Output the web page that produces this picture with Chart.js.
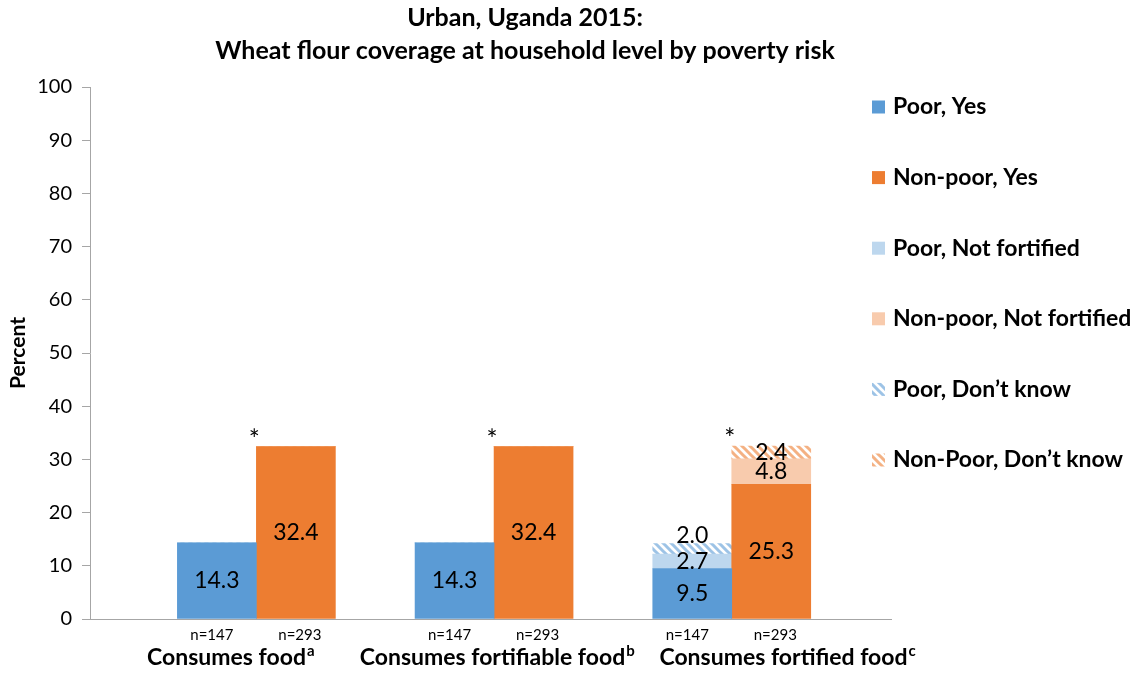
<!DOCTYPE html>
<html><head><meta charset="utf-8">
<script src="https://cdn.jsdelivr.net/npm/chart.js@4.4.0/dist/chart.umd.min.js"></script>
<style>html,body{margin:0;padding:0;background:#fff;}#wrap{width:1139px;height:674px;position:relative;}</style>
</head><body><div id="wrap"><canvas id="c" width="1139" height="674"></canvas></div>
<script>
// ---- data ----
const titleLines = ['Urban, Uganda 2015:', 'Wheat flour coverage at household level by poverty risk'];
const categories = ['Consumes food', 'Consumes fortifiable food', 'Consumes fortified food'];
const footnotes = ['a', 'b', 'c'];
const groupPositions = [1, 2, 3];
const poorYes = [14.3, 14.3, 9.5];
const nonPoorYes = [32.4, 32.4, 25.3];
const poorNotFortified = [0, 0, 2.7];
const nonPoorNotFortified = [0, 0, 4.8];
const poorDontKnow = [0, 0, 2.0];
const nonPoorDontKnow = [0, 0, 2.4];
const poorN = ['n=147', 'n=147', 'n=147'];
const nonPoorN = ['n=293', 'n=293', 'n=293'];
const significance = ['*', '*', '*'];
const seriesLabels = ['Poor, Yes', 'Non-poor, Yes', 'Poor, Not fortified', 'Non-poor, Not fortified', 'Poor, Don\u2019t know', 'Non-Poor, Don\u2019t know'];

const FONT = 'Lato';

function hatch(color) {
  const c = document.createElement('canvas'); c.width = 8; c.height = 8;
  const g = c.getContext('2d');
  g.fillStyle = '#ffffff'; g.fillRect(0, 0, 8, 8);
  g.strokeStyle = color; g.lineWidth = 3; g.lineCap = 'square';
  g.beginPath();
  g.moveTo(-2, -2); g.lineTo(10, 10);
  g.moveTo(-6, 2); g.lineTo(2, 10);
  g.moveTo(6, -2); g.lineTo(10, 2);
  g.stroke();
  return g.createPattern(c, 'repeat');
}

const pts = arr => groupPositions.map((x, i) => ({x: x, y: arr[i]}));

const datasets = [
  {label: seriesLabels[0], data: pts(poorYes), stack: 'poor', backgroundColor: '#5b9bd5'},
  {label: seriesLabels[1], data: pts(nonPoorYes), stack: 'nonpoor', backgroundColor: '#ed7d31'},
  {label: seriesLabels[2], data: pts(poorNotFortified), stack: 'poor', backgroundColor: '#bdd7ee'},
  {label: seriesLabels[3], data: pts(nonPoorNotFortified), stack: 'nonpoor', backgroundColor: '#f8cbad'},
  {label: seriesLabels[4], data: pts(poorDontKnow), stack: 'poor', backgroundColor: hatch('#9dc3e6'), labelAbove: true},
  {label: seriesLabels[5], data: pts(nonPoorDontKnow), stack: 'nonpoor', backgroundColor: hatch('#f4b183')}
].map(d => Object.assign(d, {xAxisID: 'xb', yAxisID: 'y', borderWidth: 0, barThickness: 79}));

const decorations = {
  id: 'decorations',
  afterDatasetsDraw(chart) {
    const ctx = chart.ctx;
    const ca = chart.chartArea;
    ctx.save();
    ctx.fillStyle = '#000';
    // value labels
    ctx.font = '23px ' + FONT;
    ctx.textAlign = 'center'; ctx.textBaseline = 'middle';
    chart.data.datasets.forEach((ds, di) => {
      const meta = chart.getDatasetMeta(di);
      meta.data.forEach((bar, i) => {
        const v = ds.data[i].y;
        if (!v) return;
        const top = Math.min(bar.y, bar.base), bot = Math.max(bar.y, bar.base);
        const y = ds.labelAbove ? top - 8 : (top + bot) / 2;
        ctx.fillText(v.toFixed(1), bar.x, y);
      });
    });
    // significance stars
    ctx.font = '26px ' + FONT;
    ctx.textBaseline = 'alphabetic';
    const ys = chart.scales.y, xb = chart.scales.xb;
    groupPositions.forEach((gx, i) => {
      const tot = nonPoorYes[i] + nonPoorNotFortified[i] + nonPoorDontKnow[i];
      ctx.fillText(significance[i], xb.getPixelForValue(gx) - 2, ys.getPixelForValue(tot) + 2);
    });
    // n labels
    ctx.font = '15px ' + FONT;
    ctx.textBaseline = 'middle';
    const m0 = chart.getDatasetMeta(0), m1 = chart.getDatasetMeta(1);
    groupPositions.forEach((gx, i) => {
      ctx.fillText(poorN[i], m0.data[i].x - 5, ca.bottom + 16);
      ctx.fillText(nonPoorN[i], m1.data[i].x + 4, ca.bottom + 16);
    });
    // category labels with superscripts
    const xs = chart.scales.x;
    const shift = [3, 2, 26];
    categories.forEach((c, i) => {
      ctx.font = 'bold 23px ' + FONT;
      const w = ctx.measureText(c).width;
      const cx = xs.getPixelForValue(i) + shift[i];
      ctx.textAlign = 'left'; ctx.textBaseline = 'alphabetic';
      const base = ca.bottom + 46;
      ctx.fillText(c, cx - w / 2, base);
      ctx.font = 'bold 15px ' + FONT;
      ctx.fillText(footnotes[i], cx + w / 2 + 1, base - 9);
    });
    ctx.restore();
  },
  afterDraw(chart) {
    const ctx = chart.ctx;
    ctx.save();
    // title
    ctx.fillStyle = '#000';
    ctx.font = 'bold 25px ' + FONT;
    ctx.textAlign = 'center'; ctx.textBaseline = 'middle';
    ctx.fillText(titleLines[0], 525, 18);
    ctx.fillText(titleLines[1], 525, 51);
    // legend
    ctx.textAlign = 'left';
    ctx.font = 'bold 23px ' + FONT;
    chart.data.datasets.forEach((ds, i) => {
      const cy = 107 + i * 70.6;
      ctx.fillStyle = ds.backgroundColor;
      ctx.fillRect(872, cy - 6.5, 13, 13);
      ctx.fillStyle = '#000';
      ctx.fillText(ds.label, 893, cy);
    });
    ctx.restore();
  }
};

new Chart(document.getElementById('c'), {
  type: 'bar',
  data: {labels: categories, datasets: datasets},
  options: {
    responsive: false, animation: false,
    layout: {padding: {top: 87, right: 248, bottom: 0, left: 0}},
    plugins: {legend: {display: false}, title: {display: false}, tooltip: {enabled: false}},
    scales: {
      x: {type: 'category', labels: categories, offset: true, position: 'bottom',
          grid: {display: false}, border: {display: true, color: '#a6a6a6', width: 1},
          ticks: {display: false}, afterFit: s => { s.height = 55; }},
      xb: {type: 'linear', min: 0.3, max: 3.67, offset: false, grid: {offset: false}, display: false},
      y: {type: 'linear', min: 0, max: 100, stacked: true,
          ticks: {stepSize: 10, color: '#000', font: {family: FONT, size: 20}, padding: 10},
          grid: {drawOnChartArea: false, drawTicks: true, tickLength: 8, color: '#a6a6a6'},
          border: {display: true, color: '#a6a6a6', width: 1},
          title: {display: true, text: 'Percent', color: '#000', font: {family: FONT, size: 21, weight: 'bold'}, padding: {top: 6, bottom: 0}},
          afterFit: s => { s.width = 90; }}
    }
  },
  plugins: [decorations]
});
</script></body></html>
